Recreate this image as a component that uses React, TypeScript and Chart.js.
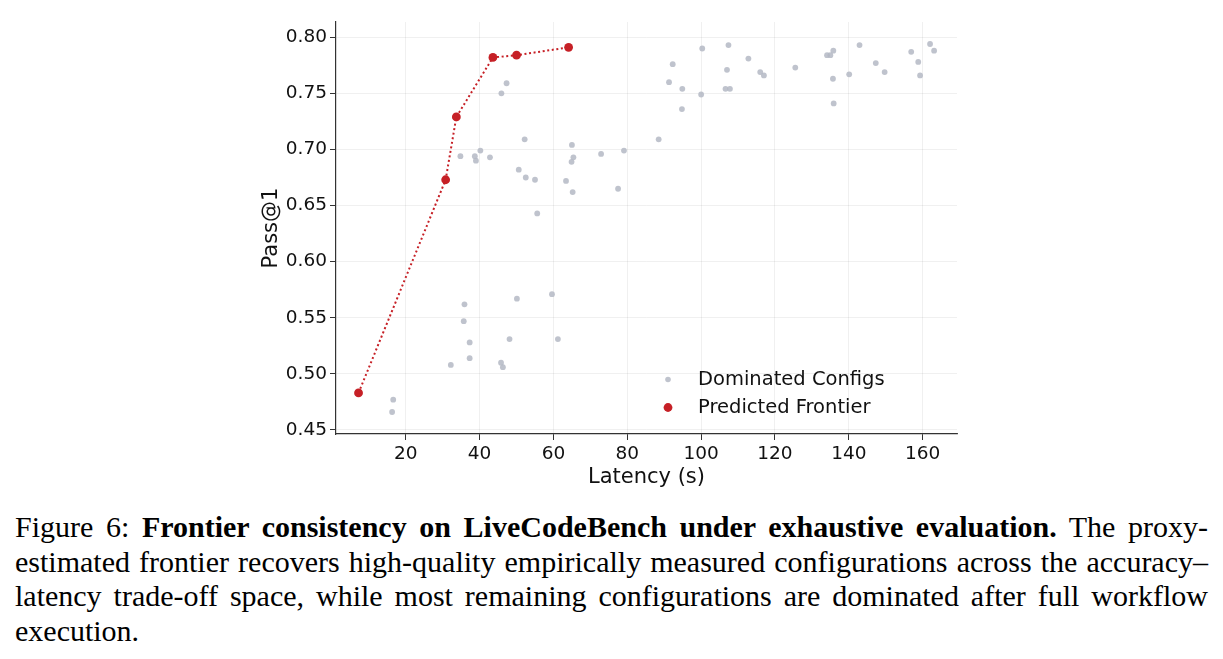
import React, { useEffect, useRef } from "react";
import { Chart, registerables } from "chart.js";

Chart.register(...registerables);

// Predicted frontier (latency s, pass@1)
const FRONTIER_X = [7.2, 30.8, 33.7, 43.6, 50.0, 64.1];
const FRONTIER_Y = [0.483, 0.673, 0.729, 0.782, 0.784, 0.791];

// Dominated configurations
const GRAY_X = [
  47.3, 45.9, 52.2, 65.0, 34.8, 38.7, 39.0, 40.2, 42.8, 65.4, 64.9, 72.9, 79.1, 50.6, 52.5, 55.0, 63.4, 65.2, 77.5, 55.6,
  35.9, 35.7, 37.3, 37.3, 32.2, 45.8, 46.3, 48.1, 50.1, 59.6, 61.2, 16.6, 16.3,
  88.5, 91.3, 92.3, 94.9, 94.8, 100.3, 100.0, 107.4, 107.0, 106.6, 107.8, 112.8, 116.0, 117.0, 125.5, 134.1, 135.0,
  135.8, 135.7, 135.9, 140.1, 142.9, 147.3, 149.7, 156.9, 158.8, 159.3, 162.0, 163.1,
];
const GRAY_Y = [
  0.759, 0.750, 0.709, 0.704, 0.694, 0.694, 0.690, 0.699, 0.693, 0.693, 0.689, 0.696, 0.699, 0.682, 0.675, 0.673, 0.672, 0.662, 0.665, 0.643,
  0.562, 0.547, 0.528, 0.514, 0.508, 0.510, 0.506, 0.531, 0.567, 0.571, 0.531, 0.477, 0.466,
  0.709, 0.760, 0.776, 0.754, 0.736, 0.790, 0.749, 0.793, 0.771, 0.754, 0.754, 0.781, 0.769, 0.766, 0.773, 0.784, 0.784,
  0.788, 0.763, 0.741, 0.767, 0.793, 0.777, 0.769, 0.787, 0.778, 0.766, 0.794, 0.788,
];

const X_TICKS = [20, 40, 60, 80, 100, 120, 140, 160];
const Y_TICKS = [0.45, 0.5, 0.55, 0.6, 0.65, 0.7, 0.75, 0.8];

const LEGEND_LABELS = ["Dominated Configs", "Predicted Frontier"];
const X_TITLE = "Latency (s)";
const Y_TITLE = "Pass@1";

const GRAY = "rgba(180,184,196,0.85)";
const RED = "#c62026";
const FONT = "'DejaVu Sans', sans-serif";

const legendPlugin = {
  id: "innerLegend",
  afterDatasetsDraw(chart: any) {
    const { ctx, chartArea } = chart;
    const mx = chartArea.left + 332;
    const tx = chartArea.left + 362;
    const rows = [
      { y: chartArea.bottom - 54.5, r: 2.8, c: GRAY, t: LEGEND_LABELS[0] },
      { y: chartArea.bottom - 26.5, r: 4.4, c: RED, t: LEGEND_LABELS[1] },
    ];
    ctx.save();
    ctx.font = `19.5px ${FONT}`;
    ctx.textBaseline = "middle";
    ctx.textAlign = "left";
    for (const row of rows) {
      ctx.beginPath();
      ctx.fillStyle = row.c;
      ctx.arc(mx, row.y, row.r, 0, Math.PI * 2);
      ctx.fill();
      ctx.fillStyle = "#111";
      ctx.fillText(row.t, tx, row.y);
    }
    ctx.restore();
  },
};

const PAD_LEFT = 258.9;

export default function App() {
  const ref = useRef<HTMLCanvasElement>(null);

  useEffect(() => {
    const gridOpts = {
      color: "rgba(0,0,0,0.08)",
      lineWidth: 0.8,
      borderDash: [2.5, 2.5],
      tickLength: 6,
      tickColor: "#333",
      tickWidth: 1,
      tickBorderDash: [],
    };
    const chart = new Chart(ref.current as HTMLCanvasElement, {
      type: "scatter",
      data: {
        datasets: [
          {
            label: LEGEND_LABELS[1],
            data: FRONTIER_X.map((x, i) => ({ x, y: FRONTIER_Y[i] })),
            showLine: true,
            borderColor: RED,
            borderWidth: 2,
            borderDash: [2, 2.6],
            backgroundColor: RED,
            pointBackgroundColor: RED,
            pointBorderWidth: 0,
            pointRadius: 4.4,
            order: 0,
          },
          {
            label: LEGEND_LABELS[0],
            data: GRAY_X.map((x, i) => ({ x, y: GRAY_Y[i] })),
            showLine: false,
            backgroundColor: GRAY,
            pointBackgroundColor: GRAY,
            pointBorderWidth: 0,
            pointRadius: 2.9,
            order: 1,
          },
        ],
      },
      options: {
        animation: false,
        responsive: false,
        layout: { padding: { left: PAD_LEFT, right: 266, top: 22, bottom: 10 } },
        plugins: {
          legend: { display: false },
          tooltip: { enabled: false },
        },
        scales: {
          x: {
            type: "linear",
            min: 1.1,
            max: 169.3,
            afterFit: (s: any) => {
              s.height = 56;
            },
            afterBuildTicks: (s: any) => {
              s.ticks = X_TICKS.map((v) => ({ value: v }));
            },
            ticks: {
              color: "#111",
              font: { family: FONT, size: 18.5 },
              padding: 3,
              maxRotation: 0,
              callback: (v: any) => String(v),
            },
            grid: gridOpts,
            border: { display: true, color: "#333", width: 1.2 },
            title: {
              display: true,
              text: X_TITLE,
              color: "#111",
              font: { family: FONT, size: 21 },
              padding: 0,
            },
          },
          y: {
            type: "linear",
            min: 0.4464,
            max: 0.8136,
            afterFit: (s: any) => {
              s.width = 336 - PAD_LEFT;
            },
            afterBuildTicks: (s: any) => {
              s.ticks = Y_TICKS.map((v) => ({ value: v }));
            },
            ticks: {
              color: "#111",
              font: { family: FONT, size: 18.5 },
              padding: 3,
              callback: (v: any) => Number(v).toFixed(2),
            },
            grid: gridOpts,
            border: { display: true, color: "#333", width: 1.2 },
            title: {
              display: true,
              text: Y_TITLE,
              color: "#111",
              font: { family: FONT, size: 21 },
              padding: 0,
            },
          },
        },
      },
      plugins: [legendPlugin],
    } as any);
    return () => chart.destroy();
  }, []);

  const lineStyle: React.CSSProperties = { textAlign: "justify", textAlignLast: "justify" as any };

  return (
    <div style={{ position: "absolute", left: 0, top: 0, width: 1223, height: 659, background: "#fff", overflow: "hidden" }}>
      <canvas
        ref={ref}
        width={1223}
        height={500}
        style={{ position: "absolute", left: 0, top: 0, width: 1223, height: 500 }}
      />
      <div
        style={{
          position: "absolute",
          left: 15,
          top: 509.8,
          width: 1193,
          fontFamily: "'Liberation Serif', 'Times New Roman', serif",
          fontSize: 30,
          lineHeight: "34.7px",
          color: "#000",
        }}
      >
        <div style={lineStyle}>
          Figure 6: <b>Frontier consistency on LiveCodeBench under exhaustive evaluation.</b> The proxy-
        </div>
        <div style={lineStyle}>
          estimated frontier recovers high-quality empirically measured configurations across the accuracy–
        </div>
        <div style={lineStyle}>
          latency trade-off space, while most remaining configurations are dominated after full workflow
        </div>
        <div>execution.</div>
      </div>
    </div>
  );
}
